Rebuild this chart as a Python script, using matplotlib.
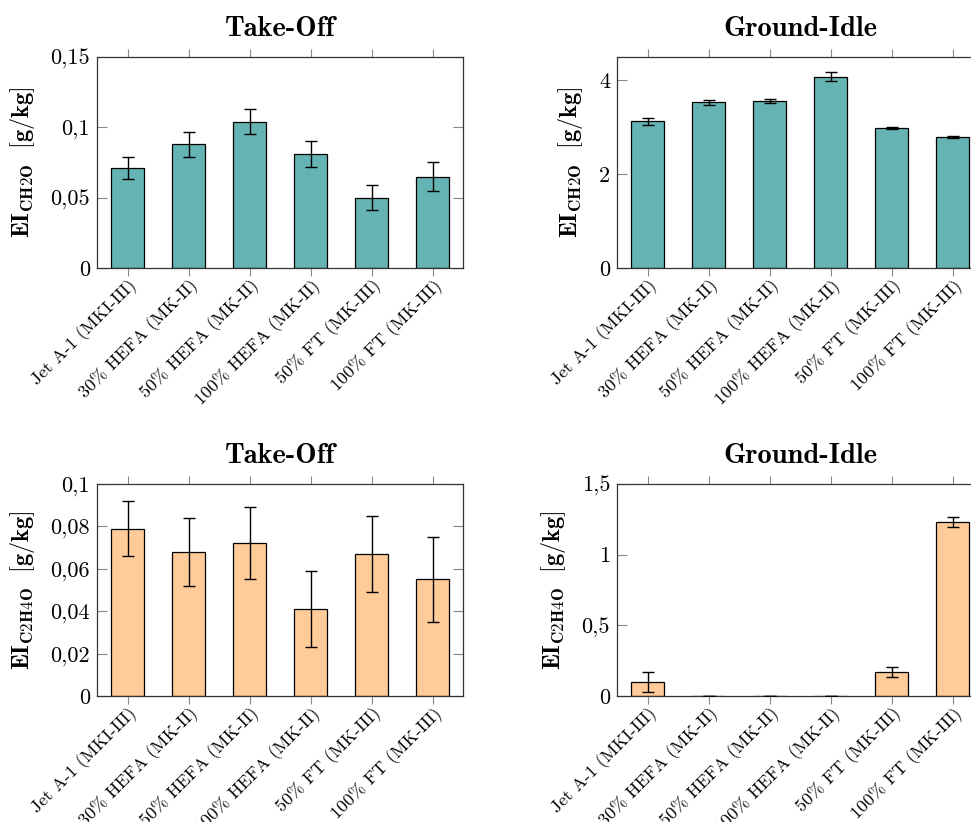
import numpy as np
import matplotlib
matplotlib.use('Agg')
import matplotlib.pyplot as plt

plt.rcParams['font.family'] = ['cmr10', 'DejaVu Serif']
plt.rcParams['mathtext.fontset'] = 'cm'
plt.rcParams['axes.unicode_minus'] = False

# fuel blends (same for all four panels)
fuels = ['Jet A-1 (MKI-III)', '30% HEFA (MK-II)', '50% HEFA (MK-II)',
         '100% HEFA (MK-II)', '50% FT (MK-III)', '100% FT (MK-III)']

# CH2O emission index [g/kg]
ch2o_takeoff = [0.071, 0.088, 0.104, 0.081, 0.050, 0.065]
ch2o_takeoff_err = [0.008, 0.009, 0.009, 0.009, 0.009, 0.010]
ch2o_idle = [3.13, 3.53, 3.56, 4.08, 2.98, 2.79]
ch2o_idle_err = [0.07, 0.06, 0.04, 0.10, 0.02, 0.02]

# C2H4O emission index [g/kg]
c2h4o_takeoff = [0.079, 0.068, 0.072, 0.041, 0.067, 0.055]
c2h4o_takeoff_err = [0.013, 0.016, 0.017, 0.018, 0.018, 0.020]
c2h4o_idle = [0.097, 0.003, 0.003, 0.003, 0.172, 1.23]
c2h4o_idle_err = [0.07, 0.0, 0.0, 0.0, 0.035, 0.035]

# y ticks and labels (decimal comma)
yt_ch2o_to = [0, 0.05, 0.1, 0.15]
yl_ch2o_to = ['0', '0,05', '0,1', '0,15']
yt_ch2o_gi = [0, 2, 4]
yl_ch2o_gi = ['0', '2', '4']
yt_c2h4o_to = [0, 0.02, 0.04, 0.06, 0.08, 0.1]
yl_c2h4o_to = ['0', '0,02', '0,04', '0,06', '0,08', '0,1']
yt_c2h4o_gi = [0, 0.5, 1, 1.5]
yl_c2h4o_gi = ['0', '0,5', '1', '1,5']

teal = '#66b3b3'
peach = '#ffcc99'

W, H = 971, 822
fig = plt.figure(figsize=(W / 100, H / 100), dpi=100)


def make_axes(left, top, right, bottom):
  # pixel box -> figure fraction
  return fig.add_axes([left / W, 1 - bottom / H, (right - left) / W, (bottom - top) / H])


def bar_panel(ax, vals, errs, color, title, ylabel, yticks, ylabels, ymax):
  x = np.arange(len(fuels))
  ax.bar(x, vals, width=0.53, color=color, edgecolor='black', linewidth=0.9, zorder=2)
  ax.errorbar(x, vals, yerr=errs, fmt='none', ecolor='black', elinewidth=1.0,
              capsize=4.5, capthick=1.0, zorder=3)
  ax.set_xlim(-0.5, 5.5)
  ax.set_ylim(0, ymax)
  ax.set_xticks(x)
  ax.set_xticklabels(fuels, rotation=45, ha='right', rotation_mode='anchor', fontsize=13)
  ax.set_yticks(yticks)
  ax.set_yticklabels(ylabels, fontsize=16)
  ax.tick_params(axis='x', direction='out', top=True, length=6, color='#888888', pad=0)
  ax.tick_params(axis='y', direction='in', right=True, length=7, color='#888888', pad=5)
  ax.set_title(title, fontsize=20.5, fontfamily='cmb10', pad=15)
  ax.set_ylabel(ylabel, fontsize=17.5, labelpad=10)
  for s in ax.spines.values():
    s.set_linewidth(0.9)
    s.set_color('#333333')


ax1 = make_axes(97, 57, 463, 268)
bar_panel(ax1, ch2o_takeoff, ch2o_takeoff_err, teal, 'Take-Off',
          r'$\mathbf{EI_{CH2O}\ \ [g/kg]}$', yt_ch2o_to, yl_ch2o_to, 0.15)

ax2 = make_axes(617, 57, 983, 268)
bar_panel(ax2, ch2o_idle, ch2o_idle_err, teal, 'Ground-Idle',
          r'$\mathbf{EI_{CH2O}\ \ [g/kg]}$', yt_ch2o_gi, yl_ch2o_gi, 4.5)

ax3 = make_axes(97, 484, 463, 696)
bar_panel(ax3, c2h4o_takeoff, c2h4o_takeoff_err, peach, 'Take-Off',
          r'$\mathbf{EI_{C2H4O}\ \ [g/kg]}$', yt_c2h4o_to, yl_c2h4o_to, 0.1)

ax4 = make_axes(617, 484, 983, 696)
bar_panel(ax4, c2h4o_idle, c2h4o_idle_err, peach, 'Ground-Idle',
          r'$\mathbf{EI_{C2H4O}\ \ [g/kg]}$', yt_c2h4o_gi, yl_c2h4o_gi, 1.5)

fig.savefig('out.png', dpi=100)
